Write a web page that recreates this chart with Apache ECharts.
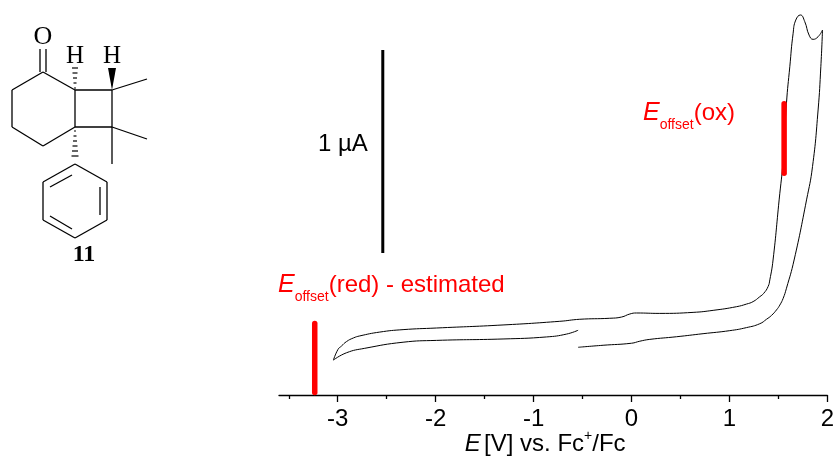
<!DOCTYPE html>
<html><head><meta charset="utf-8">
<style>html,body{margin:0;padding:0;background:#fff}#c{width:834px;height:458px}</style>
<script src="https://cdn.jsdelivr.net/npm/echarts@6/dist/echarts.min.js"></script>
</head><body><div id="c"></div>
<script>
const majorTicks = [-3,-2,-1,0,1,2];
const minorTicks = [-3.5,-2.5,-1.5,-0.5,0.5,1.5];
const cvCurve = [
[-0.545,0.235],[-0.29,0.245],[0,0.255],[0.085,0.265],[0.187,0.274],[0.46,0.287],[0.731,0.302],[1.004,0.317],
[1.175,0.332],[1.31,0.351],[1.379,0.373],[1.43,0.392],[1.481,0.419],[1.515,0.443],[1.549,0.476],[1.583,0.526],[1.661,0.665],[1.788,0.961],[1.849,1.125],
[1.906,1.404],[1.934,1.617],[1.951,1.798],
[1.906,1.765],[1.855,1.752],[1.814,1.773],[1.77,1.839],[1.726,1.872],[1.678,1.847],[1.651,1.782],[1.617,1.617],
[1.583,1.438],[1.549,1.158],[1.508,0.961],[1.446,0.665],[1.413,0.567],[1.395,0.534],[1.351,0.501],[1.31,0.484],[1.242,0.46],[1.175,0.448],[1.073,0.435],
[0.834,0.417],[0.629,0.407],[0.289,0.402],[0.051,0.404],[-0.017,0.399],[-0.102,0.384],[-0.222,0.378],[-0.528,0.373],
[-0.732,0.363],[-1.312,0.345],[-1.992,0.33],[-2.333,0.322],[-2.571,0.31],[-2.775,0.291],[-2.84,0.281],[-2.911,0.263],[-2.962,0.241],[-2.997,0.225],
[-3.044,0.172],[-2.911,0.208],[-2.724,0.23],[-2.333,0.26],[-1.992,0.269],[-1.312,0.276],[-0.868,0.286],[-0.664,0.3],[-0.545,0.319]
];
const scaleBar = [[-2.54,0.70],[-2.54,1.70]];
const offsetRed = [[-3.235,0.012],[-3.235,0.352]];
const offsetOx = [[1.559,1.092],[1.559,1.435]];

const sans = '"Liberation Sans", Arial, sans-serif';
const serif = '"Liberation Serif", "Times New Roman", serif';

// Structure drawing of compound 11 (illustration, not data)
const bonds = [
 [40,49,40,72],[46,49,46,72],
 [43,72,12,90],[12,90,12,127],[12,127,43,146],[43,146,75,127],[75,127,75,90],[75,90,43,72],
 [75,90,112,90],[112,90,112,127],[112,127,75,127],
 [112,90,147,79],[112,127,147,139],[112,127,112,164],
 [75,164,107,182],[107,182,107,220],[107,220,75,238],[75,238,43,220],[43,220,43,182],[43,182,75,164],
 [50,187,72,175],[100,187,100,215],[50,216,72,229]
];
const hashes = [
 [74,88,76,88],[73.5,83,76.5,83],[73,78,77,78],[72.5,73,77.5,73],[72,68,78,68],
 [74,131,76,131],[73.5,136,76.5,136],[73,141,77,141],[72.5,146,77.5,146],[72,151,78,151],[71.5,156,78.5,156]
];
const gfx = [];
bonds.forEach(b=>gfx.push({type:'line',shape:{x1:b[0],y1:b[1],x2:b[2],y2:b[3]},style:{stroke:'#000',lineWidth:1.3}}));
hashes.forEach(b=>gfx.push({type:'line',shape:{x1:b[0],y1:b[1],x2:b[2],y2:b[3]},style:{stroke:'#000',lineWidth:1.2}}));
gfx.push({type:'polygon',shape:{points:[[112,90],[108,68],[116,68]]},style:{fill:'#000'}});
const T=(x,y,text,font,fill,align)=>({type:'text',x,y,style:{text,font,fill:fill||'#000',align:align||'center',verticalAlign:'middle'}});
gfx.push(T(43,37,'O','26px '+serif));
gfx.push(T(75,56,'H','25px '+serif));
gfx.push(T(112,56,'H','25px '+serif));
gfx.push(T(84,255,'11','bold 24px '+serif));
gfx.push(T(318,144,'1 µA','24px '+sans,'#000','left'));
const rich = (color)=>({
 e:{font:'italic 25px '+sans,fill:color},
 s:{font:'14px '+sans,fill:color,padding:[24,0,0,0]},
 n:{font:'24px '+sans,fill:color}
});
gfx.push({type:'text',x:278,y:285,style:{text:'{e|E}{s|offset}{n|(red) - estimated}',rich:rich('#ff0000'),verticalAlign:'middle'}});
gfx.push({type:'text',x:643,y:113,style:{text:'{e|E}{s|offset}{n|(ox)}',rich:rich('#ff0000'),verticalAlign:'middle'}});

const chart = echarts.init(document.getElementById('c'),null,{renderer:'canvas'});
chart.setOption({
 animation:false,
 grid:{left:279,right:6.7,top:9.3,bottom:63,outerBoundsMode:'none'},
 xAxis:[{
  type:'value',min:-3.6,max:2,position:'bottom',
  name:'{e|E} {n|[V] vs. Fc}{u|+}{n|/Fc}',nameLocation:'middle',nameGap:34,nameMoveOverlap:false,
  nameTextStyle:{padding:[0,16,0,0],rich:{
    e:{fontStyle:'italic',fontSize:24,fontFamily:sans,color:'#000'},
    n:{fontSize:24,fontFamily:sans,color:'#000'},
    u:{fontSize:14,fontFamily:sans,color:'#000',padding:[0,0,16,0]}
  }},
  splitLine:{show:false},
  axisLine:{lineStyle:{color:'#000',width:1.3}},
  axisTick:{customValues:majorTicks,length:7,lineStyle:{color:'#000',width:1.3}},
  axisLabel:{customValues:majorTicks,margin:12,color:'#000',fontSize:24,fontFamily:sans,showMinLabel:true,showMaxLabel:true,
    formatter:v=>String(v)}
 },{
  type:'value',min:-3.6,max:2,position:'bottom',
  splitLine:{show:false},
  axisLine:{show:false},
  axisTick:{customValues:minorTicks,length:4,lineStyle:{color:'#000',width:1.3}},
  axisLabel:{show:false}
 }],
 yAxis:{type:'value',min:0,max:1.9,show:false},
 graphic:gfx,
 series:[
  {type:'line',data:cvCurve,smooth:0.5,symbol:'none',lineStyle:{color:'#000',width:1},z:2},
  {type:'line',data:scaleBar,symbol:'none',lineStyle:{color:'#000',width:3},z:3},
  {type:'line',data:offsetRed,symbol:'none',lineStyle:{color:'#ff0000',width:5.5,cap:'round'},z:4},
  {type:'line',data:offsetOx,symbol:'none',lineStyle:{color:'#ff0000',width:5.5,cap:'round'},z:4}
 ]
});
</script></body></html>
